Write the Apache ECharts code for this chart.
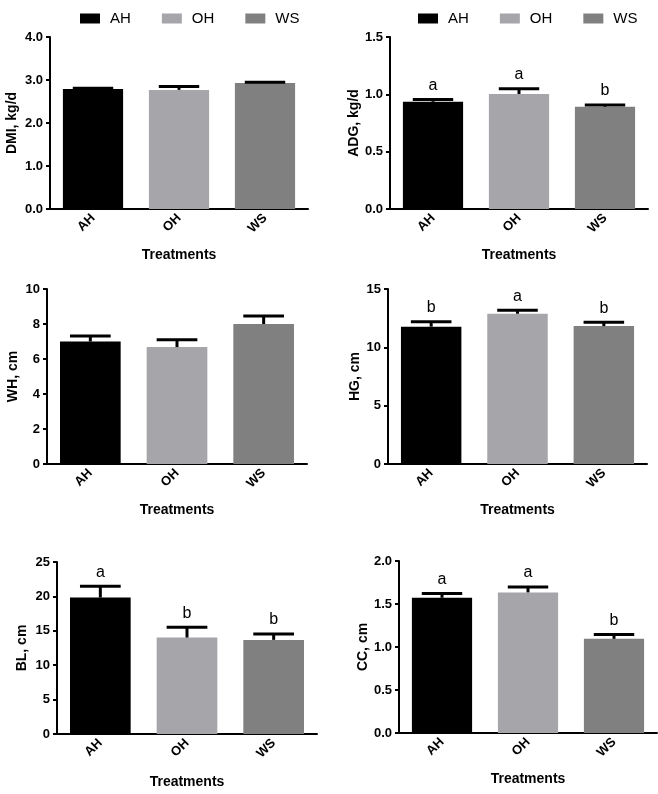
<!DOCTYPE html>
<html>
<head>
<meta charset="utf-8">
<script src="https://cdn.jsdelivr.net/npm/echarts@6/dist/echarts.min.js"></script>
<style>html,body{margin:0;padding:0;background:#fff}#c{width:658px;height:794px}</style>
</head>
<body>
<div id="c"></div>
<script>
const categories = ['AH', 'OH', 'WS'];
const treatmentColors = ['#000000', '#a5a5aa', '#808080'];

const dmiMean = [2.79, 2.77, 2.93];
const dmiSE = [0.02, 0.08, 0.02];
const dmiLetters = ['', '', ''];

const adgMean = [0.935, 1.003, 0.892];
const adgSE = [0.02, 0.045, 0.015];
const adgLetters = ['a', 'a', 'b'];

const whMean = [7.0, 6.68, 8.0];
const whSE = [0.32, 0.42, 0.46];
const whLetters = ['', '', ''];

const hgMean = [11.77, 12.88, 11.82];
const hgSE = [0.42, 0.29, 0.34];
const hgLetters = ['b', 'a', 'b'];

const blMean = [19.83, 14.02, 13.68];
const blSE = [1.65, 1.5, 0.85];
const blLetters = ['a', 'b', 'b'];

const ccMean = [1.573, 1.635, 1.095];
const ccSE = [0.048, 0.064, 0.05];
const ccLetters = ['a', 'a', 'b'];

const yNames = ['DMI, kg/d', 'ADG, kg/d', 'WH, cm', 'HG, cm', 'BL, cm', 'CC, cm'];
const yMax = [4, 1.5, 10, 15, 25, 2];
const yInterval = [1, 0.5, 2, 5, 5, 0.5];
const yDecimals = [1, 1, 0, 0, 0, 1];

const panels = [
  { mean: dmiMean, se: dmiSE, letters: dmiLetters },
  { mean: adgMean, se: adgSE, letters: adgLetters },
  { mean: whMean, se: whSE, letters: whLetters },
  { mean: hgMean, se: hgSE, letters: hgLetters },
  { mean: blMean, se: blSE, letters: blLetters },
  { mean: ccMean, se: ccSE, letters: ccLetters }
];

const grids = [
  { left: 50, top: 37, width: 258, height: 172 },
  { left: 390, top: 37, width: 258, height: 172 },
  { left: 47, top: 289, width: 260, height: 175 },
  { left: 388, top: 289, width: 259, height: 175 },
  { left: 57, top: 562, width: 260, height: 172 },
  { left: 399, top: 561, width: 258, height: 172 }
];
const yNameGaps = [31, 28, 27, 24, 28, 28];
const xNameGaps = [39, 39, 39, 39, 41, 39];

const FONT = 'Liberation Sans, Arial, sans-serif';

const xAxes = [], yAxes = [], series = [];
panels.forEach((p, i) => {
  xAxes.push({
    type: 'category', gridIndex: i, data: categories,
    axisLine: { lineStyle: { color: '#000', width: 2 } },
    axisTick: { alignWithLabel: true, length: 4, lineStyle: { color: '#000', width: 2 } },
    axisLabel: { rotate: 45, margin: 7, color: '#000', fontWeight: 'bold', fontSize: 13, fontFamily: FONT },
    name: 'Treatments', nameLocation: 'middle', nameGap: xNameGaps[i],
    nameTextStyle: { color: '#000', fontWeight: 'bold', fontSize: 14, fontFamily: FONT }
  });
  yAxes.push({
    type: 'value', gridIndex: i, min: 0, max: yMax[i], interval: yInterval[i],
    splitLine: { show: false },
    axisLine: { show: true, lineStyle: { color: '#000', width: 2 } },
    axisTick: { show: true, length: 4, lineStyle: { color: '#000', width: 2 } },
    axisLabel: { margin: 7, color: '#000', fontWeight: 'bold', fontSize: 13, fontFamily: FONT,
      formatter: v => v.toFixed(yDecimals[i]) },
    name: yNames[i], nameLocation: 'middle', nameGap: yNameGaps[i],
    nameTextStyle: { color: '#000', fontWeight: 'bold', fontSize: 14, fontFamily: FONT }
  });
  categories.forEach((c, k) => {
    series.push({
      type: 'bar', name: c, xAxisIndex: i, yAxisIndex: i,
      data: categories.map((_, j) => (j === k ? p.mean[j] : '-')),
      barWidth: '70%', barGap: '-100%',
      itemStyle: { color: treatmentColors[k] },
      emphasis: { disabled: true }, animation: false
    });
  });
  const letters = p.letters;
  series.push({
    type: 'custom', xAxisIndex: i, yAxisIndex: i, z: 5, animation: false,
    data: categories.map((_, j) => [j, p.mean[j], p.mean[j] + p.se[j]]),
    encode: { x: 0, y: [1, 2] },
    renderItem: (params, api) => {
      const x = api.value(0);
      const p0 = api.coord([x, api.value(1)]);
      const p1 = api.coord([x, api.value(2)]);
      const half = api.size([1, 0])[0] * 0.235;
      const style = { stroke: '#000', lineWidth: 3 };
      const children = [
        { type: 'line', shape: { x1: p0[0], y1: p0[1], x2: p1[0], y2: p1[1] }, style },
        { type: 'line', shape: { x1: p1[0] - half, y1: p1[1], x2: p1[0] + half, y2: p1[1] }, style }
      ];
      const t = letters[params.dataIndex];
      if (t) {
        children.push({ type: 'text', style: { text: t, x: p1[0], y: p1[1] - 6,
          align: 'center', verticalAlign: 'bottom', fill: '#000', fontSize: 16, fontFamily: FONT } });
      }
      return { type: 'group', children };
    }
  });
});

const legendCommon = {
  data: categories, icon: 'rect', itemWidth: 20, itemHeight: 10, itemGap: 31, top: 6,
  selectedMode: false,
  textStyle: { color: '#000', fontSize: 15, fontFamily: FONT, padding: [0, 0, 0, 5] }
};

const chart = echarts.init(document.getElementById('c'), null, { renderer: 'canvas' });
chart.setOption({
  backgroundColor: '#fff',
  animation: false,
  legend: [
    Object.assign({ left: 75 }, legendCommon),
    Object.assign({ left: 413 }, legendCommon)
  ],
  grid: grids,
  xAxis: xAxes,
  yAxis: yAxes,
  series: series
});
</script>
</body>
</html>
